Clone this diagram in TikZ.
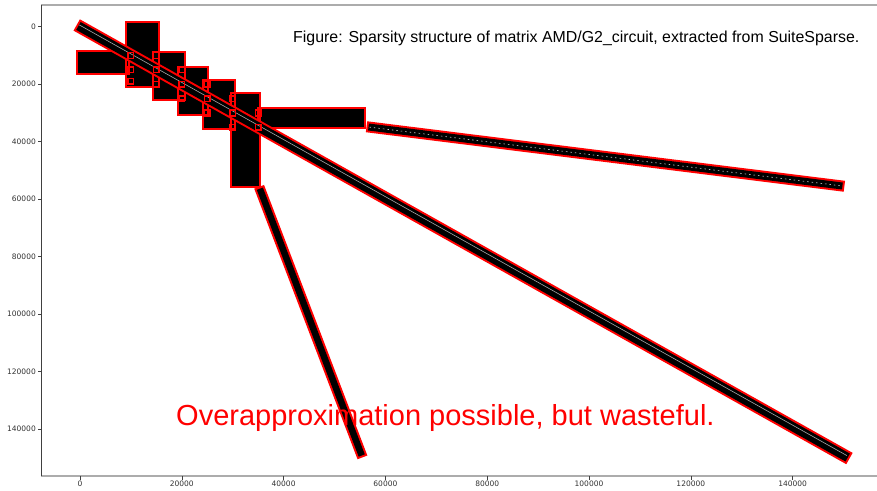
\documentclass[tikz,border=0pt]{standalone}
\usepackage{fontspec}
\setmainfont{Liberation Sans}
\newfontfamily\tickfont{DejaVu Sans}
\usetikzlibrary{positioning}

\begin{document}
\begin{tikzpicture}[%
    x=1pt, y=-1pt,
    spine/.style={draw=gray!65, line width=1.5pt},
    lspine/.style={draw=black!75, line width=1pt},
    tick/.style={draw=black!75, line width=0.6pt},
    ticklabel/.style={font=\tickfont\fontsize{7.5}{9}\selectfont, text=black!80, inner sep=1pt},
    blk/.style={fill=black},
    rbox/.style={draw=red, line width=2pt},
    corner/.style={draw=red, line width=1.5pt},
    band/.style={draw=red, line width=#1},
    core/.style={draw=black, line width=#1, shorten <=2pt, shorten >=2pt},
    seam/.style={draw=gray!70, line width=0.6pt, shorten <=3pt, shorten >=3pt}
  ]
    \useasboundingbox (0,0) rectangle (877,490);

    % axes
    \draw[spine] (41,5) -- (877,5);
    \draw[spine] (41,476) -- (877,476);
    \draw[lspine] (41,5) -- (41,476);
    \foreach \v [count=\i from 0] in {0,20000,40000,60000,80000,100000,120000,140000} {
      \draw[tick] (80+101.8*\i,476) -- ++(0,3.5);
      \node[ticklabel, anchor=north] (xl\i) at (80+101.8*\i,480) {\v};
      \draw[tick] (41,26.7+57.5*\i) -- ++(-3.5,0);
      \node[ticklabel, anchor=east] (yl\i) at (37,26.7+57.5*\i) {\v};
    }

    \begin{scope}[shift={(80,26.7)}, x=5.089pt, y=-2.875pt]
      % blocks
      \foreach \a/\b in {{(9,-1.6)}/{(15.5,21)}, {(-0.6,8.5)}/{(9.6,16.5)},
                         {(14.3,8.8)}/{(20.6,25.5)}, {(19.3,14)}/{(25.2,30.7)},
                         {(24.2,18.5)}/{(30.5,35.6)}, {(29.7,23.1)}/{(35.4,55.8)},
                         {(35,28.3)}/{(56,35.2)}}
        \fill[blk] \a rectangle \b;
      \foreach \a/\b in {{(9,-1.6)}/{(15.5,21)}, {(-0.6,8.5)}/{(9.6,16.5)},
                         {(14.3,8.8)}/{(20.6,25.5)}, {(19.3,14)}/{(25.2,30.7)},
                         {(24.2,18.5)}/{(30.5,35.6)}, {(29.7,23.1)}/{(35.4,55.8)},
                         {(35,28.3)}/{(56,35.2)}}
        \draw[rbox] \a rectangle \b;

      % bands
      \coordinate (d0) at (-0.65,-0.6);
      \coordinate (d1) at (151.2,150.2);
      \coordinate (r0) at (56.3,34.8);
      \coordinate (r1) at (150.2,55.5);
      \coordinate (l0) at (35.2,55.7);
      \coordinate (l1) at (55.5,149.8);

      \draw[band=13pt] (d0) -- (d1);
      \draw[core=9pt] (d0) -- (d1);
      \draw[seam] ([yshift=1.5pt]d0) -- ([yshift=1.5pt]d1);

      \draw[band=11pt] (r0) -- (r1);
      \draw[core=7pt] (r0) -- (r1);
      \draw[seam, gray!45, dash pattern=on 1.5pt off 3pt] (r0) -- (r1);

      \draw[band=10.5pt] (l0) -- (l1);
      \draw[core=6.5pt] (l0) -- (l1);

      % small boxes where the blocks meet the diagonal
      \foreach \k/\d in {10/10, 10/15, 10/19, 15/10, 15/15, 15/20, 20/15, 20/20, 20/25,
                         25/20, 25/25, 25/30, 30/25, 30/30, 30/35, 35/30, 35/35}
        \draw[corner] (\k,\d) +(-2.8pt,-2.8pt) rectangle +(2.8pt,2.8pt);
    \end{scope}

    \node[anchor=west, font=\fontsize{15.9}{19}\selectfont, inner sep=0pt] (title) at (293,38)
      {Figure: Sparsity structure of matrix AMD/G2\_circuit, extracted from SuiteSparse.};
    \node[anchor=west, text=red, font=\fontsize{29}{34}\selectfont, inner sep=0pt] (note) at (176,418)
      {Overapproximation possible, but wasteful.};
\end{tikzpicture}
\end{document}
